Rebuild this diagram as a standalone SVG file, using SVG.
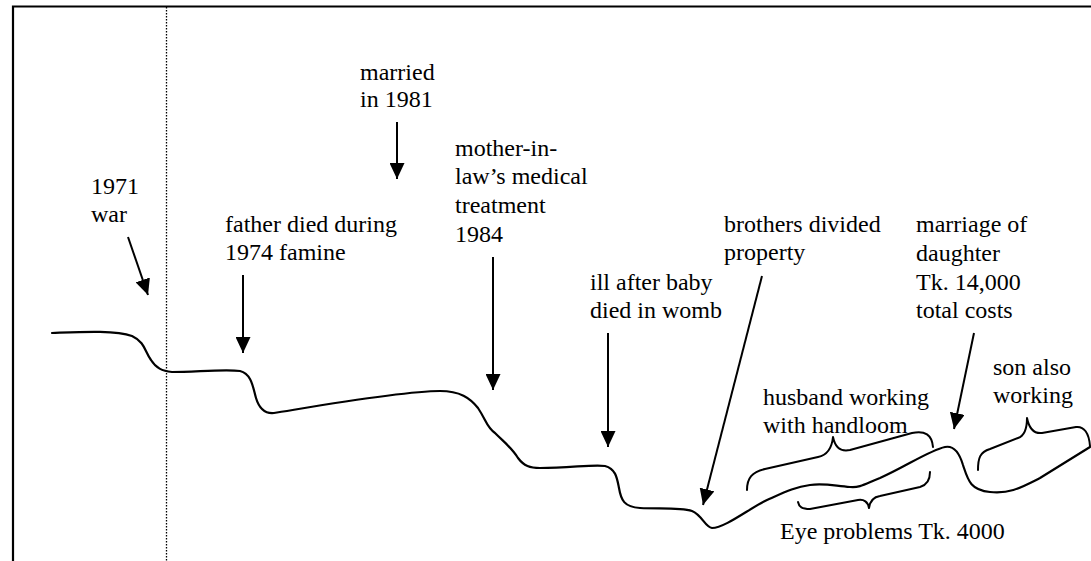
<svg xmlns="http://www.w3.org/2000/svg" width="1091" height="561" viewBox="0 0 1091 561">
  <style>
    text { font-family: 'Liberation Serif', 'Times New Roman', Times, serif; font-size: 24px; fill: #000; }
    .arrow { stroke: #000; stroke-width: 2; fill: none; marker-end: url(#head); }
    .curve { stroke: #000; stroke-width: 2.2; fill: none; stroke-linecap: round; stroke-linejoin: round; }
    .brace { stroke: #000; stroke-width: 2; fill: none; stroke-linecap: round; stroke-linejoin: round; }
  </style>
  <defs>
    <marker id="head" markerUnits="userSpaceOnUse" markerWidth="16" markerHeight="15" refX="16" refY="7.5" orient="auto">
      <path d="M0,0 L16,7.5 L0,15 z" fill="#000"/>
    </marker>
  </defs>
  <rect width="1091" height="561" fill="#fff"/>

  <!-- frame and 1971 divider -->
  <g id="frame">
    <path d="M13,561 V6.5 H1091" stroke="#000" stroke-width="2.2" fill="none"/>
    <line x1="166.5" y1="7" x2="166.5" y2="561" stroke="#000" stroke-width="1.3" stroke-dasharray="1.5 1.5"/>
  </g>

  <!-- life line -->
  <g id="lifeline">
    <path class="curve" d="M52,333 C80,332 115,330 132,336 C145,342 145,352 151,360 C156,368 162,371 172,372 C195,372 225,369 240,371 C252,374 253,388 256,398 C259,408 264,414 274,413 C300,409 400,391 440,391 C460,391 470,398 478,408 C486,420 487,428 495,433 C505,443 512,448 518,458 C524,466 530,468 540,468 C570,468 595,464 605,466 C616,469 617,478 619,488 C621,500 624,507 640,508 C660,509 680,507 692,511 C702,515 705,527 712,528 C725,528 750,508 767,500 C785,492 795,487 810,485 C825,483 835,486 850,487 C860,488 865,484 880,478 C905,467 930,450 945,447 C955,445 960,455 963,465 C968,480 970,490 990,492 C1010,494 1020,488 1040,478 L1090,447"/>
  </g>

  <!-- event labels -->
  <g font-family="Liberation Serif, serif" font-size="24">
  <g id="war">
    <text x="91" y="194">1971</text>
    <text x="91" y="222">war</text>
  </g>
  <g id="father">
    <text x="225" y="232">father died during</text>
    <text x="225" y="260">1974 famine</text>
  </g>
  <g id="married">
    <text x="360" y="80">married</text>
    <text x="360" y="107">in 1981</text>
  </g>
  <g id="motherinlaw">
    <text x="455" y="156">mother-in-</text>
    <text x="455" y="184">law’s medical</text>
    <text x="455" y="213">treatment</text>
    <text x="455" y="242">1984</text>
  </g>
  <g id="baby">
    <text x="590" y="290">ill after baby</text>
    <text x="590" y="318">died in womb</text>
  </g>
  <g id="brothers">
    <text x="724" y="232">brothers divided</text>
    <text x="724" y="260">property</text>
  </g>
  <g id="daughter">
    <text x="916" y="232">marriage of</text>
    <text x="916" y="261">daughter</text>
    <text x="916" y="290">Tk. 14,000</text>
    <text x="916" y="318">total costs</text>
  </g>
  <g id="husband">
    <text x="763" y="405">husband working</text>
    <text x="763" y="433">with handloom</text>
    <path class="brace" d="M747,490 C747,478 752,472 765,469 L818,457 C828,455 832,447 833,437 C835,447 840,452 850,450 L912,433 C925,430 932,435 933,447"/>
  </g>
  <g id="son">
    <text x="993" y="375">son also</text>
    <text x="993" y="403">working</text>
    <path class="brace" d="M978,470 C978,458 980,452 990,449 L1018,438 C1024,436 1027,428 1027,418 C1029,428 1033,434 1042,433 L1076,427 C1084,426 1089,433 1090,446"/>
  </g>
  <g id="eye">
    <text x="780" y="539">Eye problems Tk. 4000</text>
    <path class="brace" d="M798,502 C799,507 802,509 810,509 L858,500 C864,499 868,502 869,508 C870,501 873,497 880,496 L920,487 C927,485 930,480 930,472"/>
  </g>
  </g>

  <!-- arrows -->
  <g id="connectors">
    <line class="arrow" x1="128" y1="237" x2="148" y2="295"/>
    <line class="arrow" x1="243" y1="275" x2="243" y2="353"/>
    <line class="arrow" x1="397" y1="122" x2="397" y2="179"/>
    <line class="arrow" x1="493" y1="257" x2="493" y2="390"/>
    <line class="arrow" x1="608" y1="333" x2="608" y2="447"/>
    <line class="arrow" x1="762" y1="276" x2="703" y2="505"/>
    <line class="arrow" x1="974" y1="333" x2="954" y2="429"/>
  </g>
</svg>
